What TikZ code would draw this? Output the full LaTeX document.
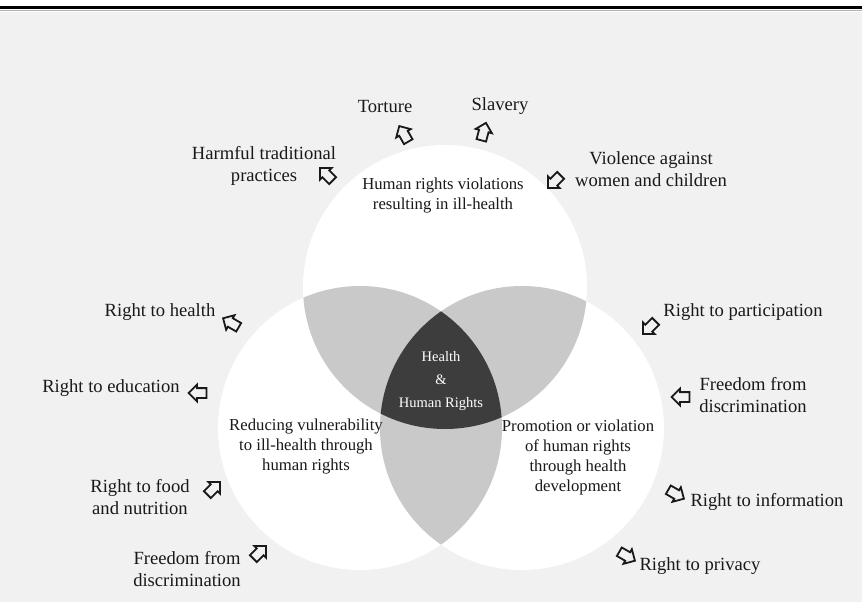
\documentclass[tikz,border=0pt]{standalone}
\usepackage{fontspec}
\setmainfont{Liberation Serif}
\usetikzlibrary{shapes.arrows}
\definecolor{paper}{gray}{0.945}
\definecolor{petal}{gray}{0.79}
\definecolor{core}{gray}{0.24}
\definecolor{ink}{gray}{0.1}
\begin{document}
\begin{tikzpicture}[x=1pt,y=-1pt,
	outer/.style={font=\fontsize{18.6}{21.5}\selectfont, text=ink, align=center},
	inner/.style={font=\fontsize{16.7}{20}\selectfont, text=ink, align=center},
	corelabel/.style={font=\fontsize{14.5}{23}\selectfont, text=white, align=center},
	hollow/.style={single arrow, draw=ink, line width=1.8pt, inner sep=4pt,
		minimum height=18pt, single arrow head extend=3.5pt}]
			\tikzstyle{every node}+=[inner sep=0pt]
			\useasboundingbox (0,0) rectangle (862,602);
			\fill [white] (0,0) rectangle (862,602);
			\fill [paper] (0,12) rectangle (862,602);
			\draw [black, line width=2.4pt] (0,7.5) -- (862,7.5);
			\draw [gray!60, line width=1pt] (0,10.5) -- (862,10.5);

			\coordinate (ctop) at (445,287);
			\coordinate (cleft) at (360,428);
			\coordinate (cright) at (522,428);
			\fill [white] (ctop) circle (142pt);
			\fill [white] (cleft) circle (142pt);
			\fill [white] (cright) circle (142pt);
			\begin{scope}
				\clip (ctop) circle (142pt);
				\fill [petal] (cleft) circle (142pt);
				\fill [petal] (cright) circle (142pt);
			\end{scope}
			\begin{scope}
				\clip (cleft) circle (142pt);
				\fill [petal] (cright) circle (142pt);
			\end{scope}
			\begin{scope}
				\clip (ctop) circle (142pt);
				\clip (cleft) circle (142pt);
				\fill [core] (cright) circle (142pt);
			\end{scope}

			\node [corelabel] (hhr) at (441,381) {Health\\\&\\Human Rights};
			\node [inner] (topname) at (443,196) {Human rights violations\\resulting in ill-health};
			\node [inner] (leftname) at (306,447) {Reducing vulnerability\\to ill-health through\\human rights};
			\node [inner] (rightname) at (578,457) {Promotion or violation\\of human rights\\through health\\development};

			\node [outer] (torture) at (385,107) {Torture};
			\node [hollow, rotate=120] (torturearrow) at (405,136) {};
			\node [outer] (slavery) at (500,106) {Slavery};
			\node [hollow, rotate=75] (slaveryarrow) at (483,134) {};
			\node [outer] (harmful) at (264,166) {Harmful traditional\\practices};
			\node [hollow, rotate=135] (harmfularrow) at (328,176) {};
			\node [outer] (violence) at (651,169) {Violence against\\women and children};
			\node [hollow, rotate=225] (violencearrow) at (556,180) {};

			\node [outer] (health) at (160,312) {Right to health};
			\node [hollow, rotate=150] (healtharrow) at (233,324) {};
			\node [outer] (educ) at (111,388) {Right to education};
			\node [hollow, rotate=180] (educarrow) at (200,393) {};
			\node [outer] (food) at (140,497) {Right to food\\and nutrition};
			\node [hollow, rotate=45] (foodarrow) at (212,490) {};
			\node [outer] (freeleft) at (187,569) {Freedom from\\discrimination};
			\node [hollow, rotate=45] (freeleftarrow) at (258,554) {};

			\node [outer] (particip) at (743,312) {Right to participation};
			\node [hollow, rotate=225] (participarrow) at (651,326) {};
			\node [outer] (freeright) at (753,395) {Freedom from\\discrimination};
			\node [hollow, rotate=180] (freerightarrow) at (683,397) {};
			\node [outer] (inform) at (767,502) {Right to information};
			\node [hollow, rotate=-30] (informarrow) at (674,493) {};
			\node [outer] (privacy) at (700,566) {Right to privacy};
			\node [hollow, rotate=-30] (privacyarrow) at (625,555) {};
		\end{tikzpicture}
\end{document}
